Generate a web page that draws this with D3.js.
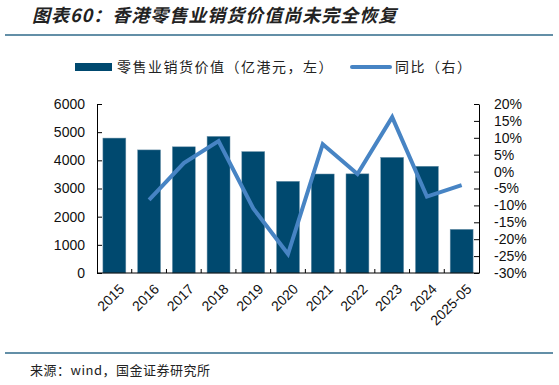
<!DOCTYPE html>
<html>
<head>
<meta charset="utf-8">
<script src="https://cdn.jsdelivr.net/npm/d3@7"></script>
<style>
  body { margin: 0; background: #fff; }
  svg { display: block; }
</style>
</head>
<body>
<svg id="chart" width="559" height="385"></svg>
<script>
const categories = ["2015", "2016", "2017", "2018", "2019", "2020", "2021", "2022", "2023", "2024", "2025-05"];
const salesValue = [4790, 4370, 4480, 4850, 4310, 3255, 3515, 3520, 4105, 3790, 1550];
const yoyPct = [null, -8.4, 2.5, 9.0, -10.9, -24.4, 8.1, -0.7, 16.1, -7.4, -4.0];
const leftTicks = [0, 1000, 2000, 3000, 4000, 5000, 6000];
const rightTicks = [-30, -25, -20, -15, -10, -5, 0, 5, 10, 15, 20];

const barColor = "#00496f";
const lineColor = "#4784c4";
const cjk = "'Noto Sans CJK SC', sans-serif";
const latin = "'Liberation Sans', Arial, sans-serif";

const svg = d3.select("#chart");

const plotL = 97, plotR = 479, plotT = 104, plotB = 273;

const x = d3.scaleBand().domain(categories).range([plotL, plotR]).paddingInner(0.34).paddingOuter(0.17);
const xEdge = d3.scaleBand().domain(categories).range([plotL, plotR]);
const yL = d3.scaleLinear().domain([0, 6000]).range([plotB, plotT]);
const yR = d3.scaleLinear().domain([-30, 20]).range([plotB, plotT]);

// title
svg.append("text")
  .attr("x", 32).attr("y", 22)
  .attr("font-family", cjk).attr("font-size", 18).attr("font-weight", "bold")
  .attr("font-style", "italic").attr("fill", "#222").attr("letter-spacing", 1)
  .text("图表60：香港零售业销货价值尚未完全恢复");

svg.append("line").attr("x1", 5).attr("x2", 553).attr("y1", 35).attr("y2", 35)
  .attr("stroke", "#2f6a8a").attr("stroke-width", 1.5);

// legend
svg.append("rect").attr("x", 75).attr("y", 63).attr("width", 37).attr("height", 8).attr("fill", barColor);
svg.append("text").attr("x", 117).attr("y", 72).attr("font-family", cjk).attr("font-size", 14)
  .attr("letter-spacing", 1.5).attr("fill", "#222").text("零售业销货价值（亿港元，左）");
svg.append("line").attr("x1", 352).attr("x2", 390).attr("y1", 67).attr("y2", 67)
  .attr("stroke", lineColor).attr("stroke-width", 4).attr("stroke-linecap", "round");
svg.append("text").attr("x", 395).attr("y", 72).attr("font-family", cjk).attr("font-size", 14)
  .attr("letter-spacing", 1.5).attr("fill", "#222").text("同比（右）");

// bars
svg.append("g").selectAll("rect")
  .data(categories.map((c, i) => ({ c, v: salesValue[i] })))
  .join("rect")
  .attr("x", d => x(d.c))
  .attr("width", x.bandwidth())
  .attr("y", d => yL(d.v))
  .attr("height", d => yL(0) - yL(d.v))
  .attr("fill", barColor)
  .attr("stroke", "#6f94ab").attr("stroke-width", 0.5);

// line
const lineData = categories.map((c, i) => ({ c, v: yoyPct[i] })).filter(d => d.v !== null);
svg.append("path")
  .datum(lineData)
  .attr("fill", "none").attr("stroke", lineColor).attr("stroke-width", 4)
  .attr("stroke-linejoin", "miter")
  .attr("d", d3.line().x(d => x(d.c) + x.bandwidth() / 2).y(d => yR(d.v)));

// left axis
const gL = svg.append("g").attr("transform", `translate(${plotL},0)`)
  .call(d3.axisLeft(yL).tickValues(leftTicks).tickFormat(d3.format("d")).tickSizeInner(-5).tickSizeOuter(0).tickPadding(12));
gL.select(".domain").attr("stroke", "#000");
gL.selectAll("text").attr("font-family", latin).attr("font-size", 14).attr("fill", "#111");

// right axis
const gR = svg.append("g").attr("transform", `translate(${plotR},0)`)
  .call(d3.axisRight(yR).tickValues(rightTicks).tickFormat(d => d + "%").tickSizeInner(-5).tickSizeOuter(0).tickPadding(15));
gR.select(".domain").attr("stroke", "#000");
gR.selectAll("text").attr("font-family", latin).attr("font-size", 14).attr("fill", "#111");

// bottom axis
svg.append("line").attr("x1", plotL).attr("x2", plotR).attr("y1", plotB).attr("y2", plotB)
  .attr("stroke", "#000");
svg.append("g").selectAll("line")
  .data(categories.slice(1))
  .join("line")
  .attr("x1", d => xEdge(d)).attr("x2", d => xEdge(d))
  .attr("y1", plotB).attr("y2", plotB - 4)
  .attr("stroke", "#000");

svg.append("g").selectAll("text")
  .data(categories)
  .join("text")
  .attr("transform", d => `translate(${x(d) + x.bandwidth() / 2 + 4},${plotB + 10}) rotate(-45)`)
  .attr("text-anchor", "end")
  .attr("dy", "0.7em")
  .attr("font-family", latin).attr("font-size", 14).attr("fill", "#111")
  .text(d => d);

// footer
svg.append("line").attr("x1", 5).attr("x2", 553).attr("y1", 353).attr("y2", 353)
  .attr("stroke", "#2f6a8a").attr("stroke-width", 1.5);
svg.append("text").attr("x", 30).attr("y", 375).attr("font-family", cjk).attr("font-size", 13)
  .attr("letter-spacing", 0.5).attr("fill", "#222").text("来源：wind，国金证券研究所");
</script>
</body>
</html>
